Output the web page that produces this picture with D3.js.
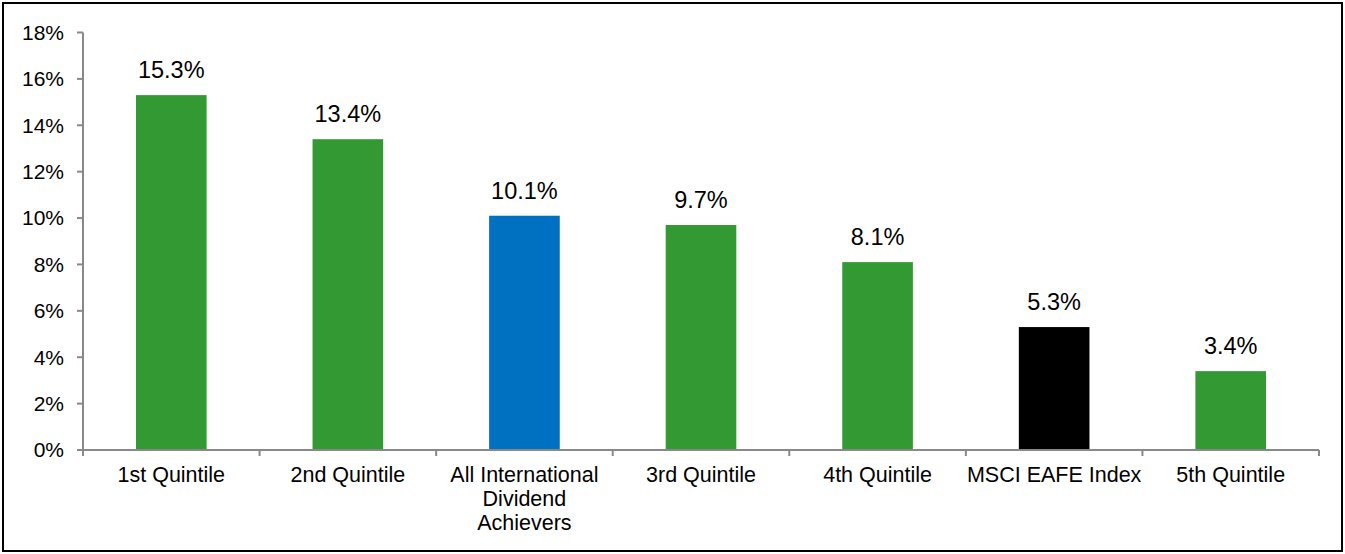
<!DOCTYPE html>
<html>
<head>
<meta charset="utf-8">
<script src="https://cdn.jsdelivr.net/npm/d3@7"></script>
<style>
  html, body { margin: 0; padding: 0; background: #fff; }
  svg { display: block; }
  text { font-family: "Liberation Sans", Arial, sans-serif; fill: #000; }
</style>
</head>
<body>
<svg id="chart" width="1345" height="554"></svg>
<script>
const categories = ["1st Quintile", "2nd Quintile", "All International Dividend Achievers", "3rd Quintile", "4th Quintile", "MSCI EAFE Index", "5th Quintile"];
const categoryLines = [["1st Quintile"], ["2nd Quintile"], ["All International", "Dividend", "Achievers"], ["3rd Quintile"], ["4th Quintile"], ["MSCI EAFE Index"], ["5th Quintile"]];
const values = [15.3, 13.4, 10.1, 9.7, 8.1, 5.3, 3.4];
const barColors = ["#339933", "#339933", "#0070C0", "#339933", "#339933", "#000000", "#339933"];
const yTicks = [0, 2, 4, 6, 8, 10, 12, 14, 16, 18];

const svg = d3.select("#chart");

// outer frame
svg.append("rect")
  .attr("x", 3).attr("y", 3).attr("width", 1339).attr("height", 548)
  .attr("fill", "none").attr("stroke", "#000").attr("stroke-width", 2);

const x = d3.scaleBand().domain(categories).range([83, 1319])
  .paddingInner(0.6).paddingOuter(0.3);
const y = d3.scaleLinear().domain([0, 18]).range([450, 32.5]);

const axisColor = "#898989";

// bars
svg.selectAll("rect.bar").data(values).join("rect")
  .attr("class", "bar")
  .attr("x", (d, i) => x(categories[i]))
  .attr("width", x.bandwidth())
  .attr("y", d => y(d))
  .attr("height", d => y(0) - y(d))
  .attr("fill", (d, i) => barColors[i]);

// value labels
svg.selectAll("text.val").data(values).join("text")
  .attr("class", "val")
  .attr("x", (d, i) => x(categories[i]) + x.bandwidth() / 2)
  .attr("y", d => y(d) - 17)
  .attr("text-anchor", "middle")
  .attr("font-size", "23.5px")
  .text(d => d.toFixed(1) + "%");

// y axis
const yAxis = svg.append("g");
yAxis.append("line")
  .attr("x1", 83).attr("x2", 83).attr("y1", y(18)).attr("y2", y(0))
  .attr("stroke", axisColor).attr("stroke-width", 2);
yAxis.selectAll("line.tick").data(yTicks).join("line")
  .attr("class", "tick")
  .attr("x1", 77).attr("x2", 83).attr("y1", d => y(d)).attr("y2", d => y(d))
  .attr("stroke", axisColor).attr("stroke-width", 2);
yAxis.selectAll("text").data(yTicks).join("text")
  .attr("x", 64).attr("y", d => y(d))
  .attr("dy", "0.35em")
  .attr("text-anchor", "end")
  .attr("font-size", "21px")
  .text(d => d + "%");

// x axis
const xAxis = svg.append("g");
const [x0, x1] = x.range();
xAxis.append("line")
  .attr("x1", x0).attr("x2", x1).attr("y1", y(0)).attr("y2", y(0))
  .attr("stroke", axisColor).attr("stroke-width", 2);
const boundaries = d3.range(categories.length + 1).map(i => x0 + i * x.step());
xAxis.selectAll("line.tick").data(boundaries).join("line")
  .attr("class", "tick")
  .attr("x1", d => d).attr("x2", d => d)
  .attr("y1", y(0)).attr("y2", y(0) + 6)
  .attr("stroke", axisColor).attr("stroke-width", 2);

xAxis.selectAll("text").data(categoryLines).join("text")
  .attr("x", (d, i) => x(categories[i]) + x.bandwidth() / 2)
  .attr("y", 482)
  .attr("text-anchor", "middle")
  .attr("font-size", "21.5px")
  .each(function(lines, i) {
    const t = d3.select(this);
    const cx = x(categories[i]) + x.bandwidth() / 2;
    lines.forEach((ln, j) => {
      t.append("tspan").attr("x", cx).attr("dy", j === 0 ? 0 : 24).text(ln);
    });
  });
</script>
</body>
</html>
